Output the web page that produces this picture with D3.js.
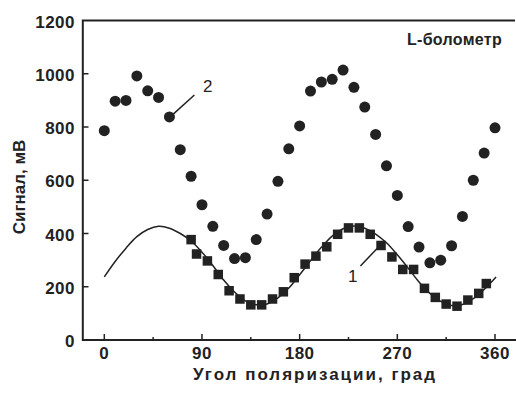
<!DOCTYPE html>
<html>
<head>
<meta charset="utf-8">
<script src="https://cdn.jsdelivr.net/npm/d3@7"></script>
<style>
  body { margin: 0; background: #fff; }
  svg { display: block; font-family: "Liberation Sans", Arial, sans-serif; }
</style>
</head>
<body>
<div id="chart"></div>
<script>
// series 2: circles
const angles2 = [0, 10, 20, 30, 40, 50, 60, 70, 80, 90, 100, 110, 120, 130, 140, 150, 160, 170, 180,
  190, 200, 210, 220, 230, 240, 250, 260, 270, 280, 290, 300, 310, 320, 330, 340, 350, 360];
const signal2 = [786, 897, 900, 992, 936, 911, 838, 715, 615, 508, 427, 355, 306, 309, 377, 473, 596, 718, 804,
  935, 969, 979, 1014, 949, 875, 772, 654, 543, 426, 349, 290, 300, 354, 464, 600, 702, 797];

// series 1: squares
const angles1 = [80, 85, 95, 105, 115, 125, 135, 145, 155, 165, 175, 185, 195, 205, 215, 225, 235,
  245, 255, 265, 275, 285, 295, 305, 315, 325, 335, 345, 352];
const signal1 = [377, 323, 297, 246, 185, 154, 132, 132, 154, 181, 234, 285, 315, 350, 397, 421, 421,
  397, 355, 312, 265, 265, 194, 160, 135, 127, 150, 175, 212];

// fitted curve for series 1
const fitAngles = [0, 10, 20, 30, 40, 50, 60, 70, 80, 90, 100, 110, 120, 130, 140, 150, 160, 170, 180,
  190, 200, 210, 220, 230, 240, 250, 260, 270, 280, 290, 300, 310, 320, 330, 340, 350, 361];
const fitSignal = [237, 295, 345, 388, 415, 427, 420, 400, 372, 330, 280, 225, 180, 147, 132, 135, 158, 195, 245,
  298, 348, 390, 418, 428, 420, 398, 365, 320, 270, 218, 175, 145, 130, 133, 155, 190, 237];

const xTicks = [0, 90, 180, 270, 360];
const xMinor = [45, 135, 225, 315];
const yTicks = [0, 200, 400, 600, 800, 1000, 1200];

const width = 516, height = 394;
const ink = "#222";

const svg = d3.select("#chart").append("svg")
  .attr("width", width)
  .attr("height", height);

const x = d3.scaleLinear().domain([0, 360]).range([104.3, 495]);
const y = d3.scaleLinear().domain([0, 1200]).range([340, 20.5]);

// frame
svg.append("path")
  .attr("d", `M515,${y(1200)}H${x.range()[0] - 21.5}V${y(0)}H516`)
  .attr("fill", "none")
  .attr("stroke", ink)
  .attr("stroke-width", 2);

// x ticks (inside)
svg.append("g").selectAll("line")
  .data(xTicks.map(d => ({ v: d, len: 6 })).concat(xMinor.map(d => ({ v: d, len: 3 }))))
  .join("line")
  .attr("x1", d => x(d.v)).attr("x2", d => x(d.v))
  .attr("y1", y(0)).attr("y2", d => y(0) - d.len)
  .attr("stroke", ink).attr("stroke-width", 1.5);

svg.append("g").selectAll("text")
  .data(xTicks)
  .join("text")
  .attr("x", d => x(d))
  .attr("y", 359)
  .attr("text-anchor", "middle")
  .attr("font-size", 17)
  .attr("font-weight", "bold")
  .attr("letter-spacing", 0.5)
  .attr("fill", ink)
  .text(d => d);

// y ticks (inside)
svg.append("g").selectAll("line")
  .data(yTicks.slice(1, -1))
  .join("line")
  .attr("x1", 82.8).attr("x2", 88.5)
  .attr("y1", d => y(d)).attr("y2", d => y(d))
  .attr("stroke", ink).attr("stroke-width", 1.5);

svg.append("g").selectAll("text")
  .data(yTicks)
  .join("text")
  .attr("x", 75)
  .attr("y", d => y(d) + 7)
  .attr("text-anchor", "end")
  .attr("font-size", 17)
  .attr("font-weight", "bold")
  .attr("letter-spacing", 0.5)
  .attr("fill", ink)
  .text(d => d);

// axis titles
svg.append("text")
  .attr("x", 315)
  .attr("y", 380)
  .attr("text-anchor", "middle")
  .attr("font-size", 17)
  .attr("font-weight", "bold")
  .attr("letter-spacing", 2)
  .attr("fill", ink)
  .text("Угол поляризации, град");

svg.append("text")
  .attr("transform", "translate(25,187) rotate(-90)")
  .attr("text-anchor", "middle")
  .attr("font-size", 17)
  .attr("font-weight", "bold")
  .attr("fill", ink)
  .text("Сигнал, мВ");

svg.append("text")
  .attr("x", 502)
  .attr("y", 45)
  .attr("text-anchor", "end")
  .attr("font-size", 16)
  .attr("font-weight", "bold")
  .attr("letter-spacing", 0.3)
  .attr("fill", ink)
  .text("L-болометр");

// fit curve
const line = d3.line()
  .x((d, i) => x(fitAngles[i]))
  .y(d => y(d))
  .curve(d3.curveCatmullRom);

svg.append("path")
  .datum(fitSignal)
  .attr("d", line)
  .attr("fill", "none")
  .attr("stroke", ink)
  .attr("stroke-width", 1.5);

// squares
const s = 9.5;
svg.append("g").selectAll("rect")
  .data(angles1)
  .join("rect")
  .attr("x", d => x(d) - s / 2)
  .attr("y", (d, i) => y(signal1[i]) - s / 2)
  .attr("width", s).attr("height", s)
  .attr("fill", ink);

// circles
svg.append("g").selectAll("circle")
  .data(angles2)
  .join("circle")
  .attr("cx", d => x(d))
  .attr("cy", (d, i) => y(signal2[i]))
  .attr("r", 5.5)
  .attr("fill", ink);

// curve labels with leaders
svg.append("line")
  .attr("x1", x(60) + 3).attr("y1", y(838) - 2)
  .attr("x2", x(83)).attr("y2", y(920))
  .attr("stroke", ink).attr("stroke-width", 1.5);
svg.append("text")
  .attr("x", 203).attr("y", 92)
  .attr("font-size", 17)
  .attr("fill", ink)
  .text("2");

svg.append("line")
  .attr("x1", x(236)).attr("y1", y(278))
  .attr("x2", x(254)).attr("y2", y(355))
  .attr("stroke", ink).attr("stroke-width", 1.5);
svg.append("text")
  .attr("x", 348).attr("y", 282)
  .attr("font-size", 17)
  .attr("fill", ink)
  .text("1");
</script>
</body>
</html>
